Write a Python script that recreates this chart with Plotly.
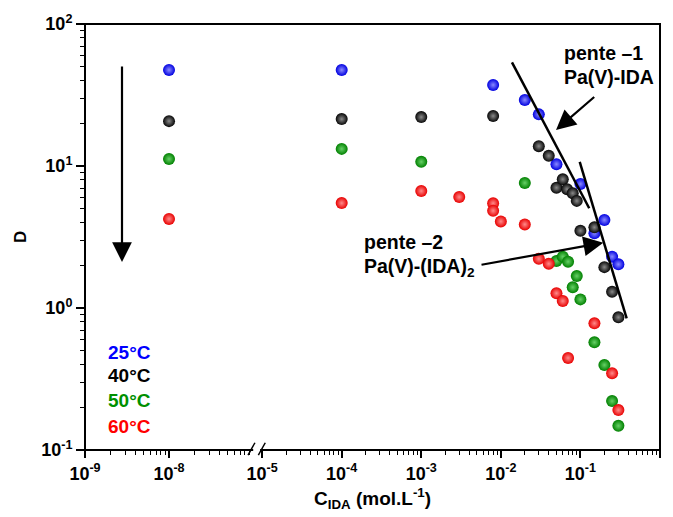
import math
import plotly.graph_objects as go

# ---------------- data ----------------
labels = ["25°C", "40°C", "50°C", "60°C"]

x_25 = [1e-8, 1e-4, 0.008, 0.02, 0.03, 0.05, 0.1, 0.15, 0.2, 0.25, 0.3]
D_25 = [47.5, 47.5, 37.2, 29.2, 23.1, 10.3, 7.47, 3.36, 4.17, 2.30, 2.03]

x_40 = [1e-8, 1e-4, 1e-3, 0.008, 0.03, 0.04, 0.05, 0.06, 0.068, 0.08, 0.09,
        0.1, 0.15, 0.2, 0.25, 0.3]
D_40 = [20.7, 21.4, 22.1, 22.5, 13.8, 11.8, 7.03, 8.06, 6.86, 6.43, 5.68,
        3.50, 3.70, 1.94, 1.30, 0.86]

x_50 = [1e-8, 1e-4, 1e-3, 0.02, 0.05, 0.06, 0.07, 0.08, 0.09, 0.1, 0.15,
        0.2, 0.25, 0.3]
D_50 = [11.2, 13.2, 10.7, 7.6, 2.14, 2.30, 2.12, 1.40, 1.68, 1.15, 0.573,
        0.397, 0.221, 0.148]

x_60 = [1e-8, 1e-4, 1e-3, 3e-3, 0.008, 0.008, 0.01, 0.02, 0.03, 0.04, 0.05,
        0.06, 0.07, 0.15, 0.25, 0.3]
D_60 = [4.24, 5.48, 6.67, 6.05, 5.46, 4.84, 4.07, 3.88, 2.22, 2.05, 1.27,
        1.12, 0.445, 0.78, 0.347, 0.191]

# slope guide lines
slope1_x = [0.0138, 0.129]
slope1_D = [53.7, 5.04]
slope2_x = [0.098, 0.381]
slope2_D = [10.7, 0.845]

x_ticks_low = [1e-9, 1e-8]
x_ticks_high = [1e-5, 1e-4, 1e-3, 1e-2, 1e-1, 1e0]
y_ticks = [0.1, 1, 10, 100]

# ---------------- styling ----------------
FONT = "Liberation Sans, Arial, sans-serif"
edge_cols = ["#0000e0", "#050505", "#008000", "#e80000"]
center_cols = ["#8a8aff", "#8a8a8a", "#66d066", "#ff8a8a"]
text_cols = ["#0000ff", "#000000", "#009000", "#ff0000"]

BREAK_AT = 1e-6

fig = go.Figure()

series = [(x_25, D_25), (x_40, D_40), (x_50, D_50), (x_60, D_60)]
for (xs, ds), ec, cc, lab in zip(series, edge_cols, center_cols, labels):
    lo = [(x, d) for x, d in zip(xs, ds) if x < BREAK_AT]
    hi = [(x, d) for x, d in zip(xs, ds) if x >= BREAK_AT]
    for pts, xa in ((lo, "x"), (hi, "x2")):
        if not pts:
            continue
        fig.add_trace(go.Scatter(
            x=[p[0] for p in pts], y=[p[1] for p in pts],
            mode="markers", xaxis=xa, yaxis="y", name=lab, showlegend=False,
            marker=dict(size=12, color=ec, line=dict(width=0),
                        gradient=dict(type="radial", color=cc)),
        ))

for lx, ly in ((slope1_x, slope1_D), (slope2_x, slope2_D)):
    fig.add_trace(go.Scatter(x=lx, y=ly, mode="lines", xaxis="x2", yaxis="y",
                             line=dict(color="black", width=2.5), showlegend=False))


def sup(v):
    e = int(round(math.log10(v)))
    return f"10<sup>{e}</sup>"


def minor_vals(lo_exp, hi_exp):
    out = []
    for e in range(lo_exp, hi_exp):
        for m in range(2, 10):
            out.append(m * 10.0 ** e)
    return out


tickfont = dict(family=FONT, size=18, color="black", weight="bold")
common_x = dict(type="log", showgrid=False, zeroline=False, showline=False,
                ticks="outside", ticklen=7, tickwidth=1.5, tickcolor="black",
                tickfont=tickfont, anchor="y", automargin=False)

fig.update_layout(
    template="none",
    width=673, height=517,
    margin=dict(l=85, r=13, t=24, b=67, autoexpand=False),
    paper_bgcolor="white", plot_bgcolor="white",
    xaxis=dict(domain=[0, 0.287], range=[-9, -7.036], tickmode="array",
               tickvals=x_ticks_low, ticktext=[sup(v) for v in x_ticks_low],
               minor=dict(tickmode="array", tickvals=minor_vals(-9, -7),
                          ticks="outside", ticklen=4, tickwidth=1.2,
                          tickcolor="black", showgrid=False),
               **common_x),
    xaxis2=dict(domain=[0.308, 1], range=[-5, 0], tickmode="array",
                tickvals=x_ticks_high, ticktext=[sup(v) for v in x_ticks_high],
                minor=dict(tickmode="array", tickvals=minor_vals(-5, 0),
                           ticks="outside", ticklen=4, tickwidth=1.2,
                           tickcolor="black", showgrid=False),
                **common_x),
    yaxis=dict(type="log", range=[-1, 2], domain=[0, 1], anchor="x",
               showgrid=False, zeroline=False, showline=False, automargin=False,
               ticks="outside", ticklen=8, tickwidth=1.5, tickcolor="black",
               tickmode="array", tickvals=y_ticks,
               ticktext=[sup(v) for v in y_ticks], tickfont=tickfont,
               minor=dict(tickmode="array", tickvals=minor_vals(-1, 2),
                          ticks="outside", ticklen=4, tickwidth=1.2,
                          tickcolor="black", showgrid=False)),
    showlegend=False,
)

# frame + axis break
shapes = [
    dict(type="rect", xref="paper", yref="paper", x0=0, x1=1, y0=0, y1=1,
         line=dict(color="black", width=2), layer="above"),
    dict(type="rect", xref="paper", yref="paper", x0=0.2925, x1=0.3045,
         y0=-0.006, y1=0.006, line=dict(width=0), fillcolor="white", layer="above"),
    dict(type="line", xref="paper", yref="paper", x0=0.2835, x1=0.2955,
         y0=-0.012, y1=0.017, line=dict(color="black", width=1.5), layer="above"),
    dict(type="line", xref="paper", yref="paper", x0=0.3015, x1=0.3135,
         y0=-0.012, y1=0.017, line=dict(color="black", width=1.5), layer="above"),
]
fig.update_layout(shapes=shapes)

bold = dict(family=FONT, size=19, color="black", weight="bold")
ann = []
# axis titles
ann.append(dict(text="C<sub>IDA</sub> (mol.L<sup>-1</sup>)", xref="paper", yref="paper",
                x=0.5, y=-0.115, xanchor="center", yanchor="middle",
                showarrow=False, font=bold))
ann.append(dict(text="D", xref="paper", yref="paper", x=-0.113, y=0.5,
                textangle=-90, xanchor="center", yanchor="middle",
                showarrow=False, font=dict(family=FONT, size=17, color="black",
                                           weight="bold")))
# temperature labels
for lab, col, yy in zip(labels, text_cols, [0.230, 0.174, 0.117, 0.056]):
    ann.append(dict(text=lab, xref="paper", yref="paper", x=0.036, y=yy,
                    xanchor="left", yanchor="middle", showarrow=False,
                    font=dict(family=FONT, size=19, color=col, weight="bold")))
# slope annotations
ann_font = dict(family=FONT, size=19.5, color="black", weight="bold")
ann.append(dict(text="pente \u20131", xref="paper", yref="paper", x=0.8296, y=0.932,
                xanchor="left", yanchor="middle", showarrow=False, font=ann_font))
ann.append(dict(text="Pa(V)-IDA", xref="paper", yref="paper", x=0.8296, y=0.876,
                xanchor="left", yanchor="middle", showarrow=False, font=ann_font))
ann.append(dict(text="pente \u20132", xref="paper", yref="paper", x=0.4817, y=0.488,
                xanchor="left", yanchor="middle", showarrow=False, font=ann_font))
ann.append(dict(text="Pa(V)-(IDA)<sub>2</sub>", xref="paper", yref="paper", x=0.4817,
                y=0.428, xanchor="left", yanchor="middle", showarrow=False,
                font=ann_font))
# arrows
arrow_style = dict(showarrow=True, arrowhead=2, arrowsize=1.8, arrowwidth=2.2,
                   arrowcolor="black", text="", standoff=0, startstandoff=0)
ann.append(dict(xref="paper", yref="paper", x=(556 - 85) / 575, y=(450 - 130) / 426,
                ax=39.7, ay=-34.3, **arrow_style))
ann.append(dict(xref="paper", yref="paper", x=(603.3 - 85) / 575, y=(450 - 242.7) / 426,
                ax=-123.3, ay=22.3, **arrow_style))
ann.append(dict(xref="paper", yref="paper", x=(122 - 85) / 575, y=(450 - 262) / 426,
                ax=0, ay=-197, **arrow_style))
fig.update_layout(annotations=ann)

fig.write_html(
    "out.html",
    config={"displayModeBar": False},
    post_script="document.body.style.margin='0';document.body.style.overflow='hidden';",
)
